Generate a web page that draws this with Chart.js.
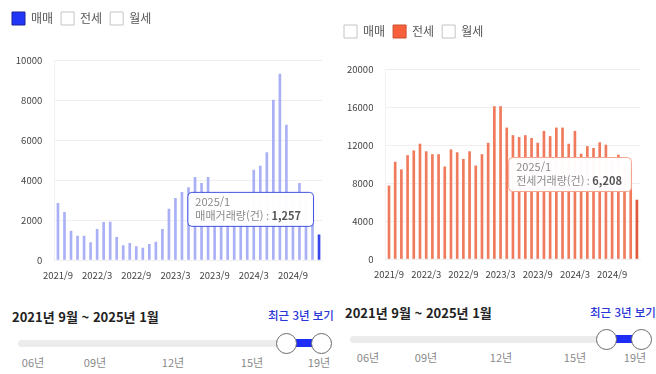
<!DOCTYPE html>
<html lang="ko">
<head>
<meta charset="utf-8">
<script src="https://cdn.jsdelivr.net/npm/chart.js@4.4.1/dist/chart.umd.min.js"></script>
<style>
body { margin: 0; background: #fff; font-family: 'Noto Sans CJK KR', 'Noto Sans', sans-serif; }
#wrap { position: relative; width: 656px; height: 374px; overflow: hidden; }
canvas { position: absolute; top: 0; }
.range { position: absolute; font-size: 13px; font-weight: 600; color: #222; line-height: 20px; white-space: nowrap; }
.recent { position: absolute; font-size: 11.5px; font-weight: 500; color: #2a35d8; line-height: 20px; white-space: nowrap; }
.track { position: absolute; height: 7px; border-radius: 4px; background: #ececec; }
.sel { position: absolute; height: 8px; background: #1d2cf7; }
.knob { position: absolute; width: 21px; height: 21px; box-sizing: border-box; border: 1.5px solid #6b6b6b; border-radius: 50%; background: #fff; }
.yr { position: absolute; font-size: 11px; color: #8a8a8a; line-height: 14px; transform: translateX(-50%); white-space: nowrap; }
</style>
</head>
<body>
<div id="wrap">
  <canvas id="saleChart" width="330" height="295" style="left:0"></canvas>
  <canvas id="jeonseChart" width="326" height="295" style="left:330px"></canvas>

  <div class="range" style="left:12px;top:307px">2021년 9월 ~ 2025년 1월</div>
  <div class="track" style="left:18px;top:339.5px;width:306px"></div>
  <div class="sel" style="left:296px;top:339px;width:17px"></div>
  <div class="knob" style="left:276px;top:332.5px"></div>
  <div class="knob" style="left:311px;top:332.5px"></div>
  <div class="yr" style="left:33px;top:355px">06년</div>
  <div class="yr" style="left:95px;top:355px">09년</div>
  <div class="yr" style="left:173px;top:355px">12년</div>
  <div class="yr" style="left:252px;top:355px">15년</div>
  <div class="yr" style="left:319px;top:355px">19년</div>

  <div class="range" style="left:345px;top:303px">2021년 9월 ~ 2025년 1월</div>
  <div class="track" style="left:350px;top:335.5px;width:300px"></div>
  <div class="sel" style="left:616px;top:335px;width:17px"></div>
  <div class="knob" style="left:596px;top:328.5px"></div>
  <div class="knob" style="left:631px;top:328.5px"></div>
  <div class="yr" style="left:368px;top:350px">06년</div>
  <div class="yr" style="left:426px;top:350px">09년</div>
  <div class="yr" style="left:501px;top:350px">12년</div>
  <div class="yr" style="left:575px;top:350px">15년</div>
  <div class="yr" style="left:635px;top:350px">19년</div>

  <div class="recent" style="left:268px;top:305px">최근 3년 보기</div>
  <div class="recent" style="left:590px;top:302px">최근 3년 보기</div>
</div>
<script>
var FONT = "'Noto Sans CJK KR', 'Noto Sans', sans-serif";

var months = ['2021/9', '2021/10', '2021/11', '2021/12',
    '2022/1', '2022/2', '2022/3', '2022/4', '2022/5', '2022/6', '2022/7', '2022/8', '2022/9', '2022/10', '2022/11', '2022/12',
    '2023/1', '2023/2', '2023/3', '2023/4', '2023/5', '2023/6', '2023/7', '2023/8', '2023/9', '2023/10', '2023/11', '2023/12',
    '2024/1', '2024/2', '2024/3', '2024/4', '2024/5', '2024/6', '2024/7', '2024/8', '2024/9', '2024/10', '2024/11', '2024/12',
    '2025/1'];

// 매매 거래량(건)
var saleCounts = [2833, 2383, 1450, 1200, 1200, 867, 1533, 1883, 1900, 1133,
    717, 833, 667, 600, 783, 900, 1533, 2540, 3083, 3383,
    3617, 4133, 3833, 4133, 3200, 2300, 1900, 1850, 2600, 2700,
    4500, 4700, 5367, 8000, 9300, 6750, 3200, 3833, 3300, 3100,
    1257];

// 전세 거래량(건)
var jeonseCounts = [7700, 10200, 9400, 10900, 11400, 12100, 11300, 11000, 11000, 9700,
    11500, 11200, 10500, 11300, 9800, 11000, 12200, 16050, 16050, 13800,
    13000, 12800, 13000, 12700, 12200, 13450, 12900, 13800, 13800, 12100,
    13450, 11050, 11850, 11650, 12250, 12000, 10400, 10950, 10000, 9400,
    6208];

var legendNames = ['매매', '전세', '월세'];
var saleTicks = [0, 2000, 4000, 6000, 8000, 10000];
var jeonseTicks = [0, 4000, 8000, 12000, 16000, 20000];

// push the plot down below the legend
var legendGap = {
    id: 'legendGap',
    beforeInit: function(chart, args, opts) {
        var fit = chart.legend.fit;
        chart.legend.fit = function() {
            fit.call(this);
            this.height += opts.gap || 0;
        };
    }
};

// fixed tooltip on the last month
var hoverTip = {
    id: 'hoverTip',
    afterDraw: function(chart, args, opts) {
        var meta = chart.getDatasetMeta(opts.dataset);
        var i = meta.data.length - 1;
        var bar = meta.data[i];
        var ctx = chart.ctx;
        var label = opts.label + ' : ';
        var num = chart.data.datasets[opts.dataset].data[i].toLocaleString('en-US');
        ctx.save();
        ctx.font = '11px ' + FONT;
        var w1 = ctx.measureText(label).width;
        ctx.font = 'bold 11px ' + FONT;
        var w2 = ctx.measureText(num).width;
        var w = w1 + w2 + opts.pad, h = 34;
        var x = bar.x - 6 - w, y = bar.y - 26 - h / 2;
        ctx.beginPath();
        ctx.roundRect(x + 0.5, y + 0.5, w, h, 4);
        ctx.fillStyle = 'rgba(255,255,255,0.97)';
        ctx.fill();
        ctx.lineWidth = 1;
        ctx.strokeStyle = opts.border;
        ctx.stroke();
        ctx.textBaseline = 'middle';
        ctx.textAlign = 'left';
        ctx.fillStyle = '#8a8a8a';
        ctx.font = '11px ' + FONT;
        ctx.fillText(chart.data.labels[i], x + 8, y + 10);
        ctx.fillText(label, x + 8, y + 24);
        ctx.fillStyle = '#555';
        ctx.font = 'bold 11px ' + FONT;
        ctx.fillText(num, x + 8 + w1, y + 24);
        ctx.restore();
    }
};

function makeChart(id, p) {
    var last = p.values.length - 1;
    var datasets = legendNames.map(function(name, k) {
        return {
            label: name,
            data: k === p.active ? p.values : [],
            backgroundColor: p.values.map(function(v, i) { return i === last ? p.hot : p.color; }),
            barThickness: 2,
            grouped: false
        };
    });
    return new Chart(document.getElementById(id).getContext('2d'), {
        type: 'bar',
        data: { labels: months, datasets: datasets },
        options: {
            responsive: false,
            animation: false,
            layout: { padding: p.padding },
            plugins: {
                tooltip: { enabled: false },
                legendGap: { gap: p.gap },
                hoverTip: { dataset: p.active, label: p.tipLabel, border: p.tipBorder, pad: p.tipPad },
                legend: {
                    align: 'start',
                    onClick: null,
                    labels: {
                        boxWidth: 13,
                        boxHeight: 13,
                        padding: 8,
                        color: '#555',
                        font: { family: FONT, size: 12 },
                        generateLabels: function(chart) {
                            return chart.data.datasets.map(function(ds, k) {
                                var on = k === p.active;
                                return {
                                    text: ds.label,
                                    fillStyle: on ? p.legendFill : '#fff',
                                    strokeStyle: on ? p.legendStroke : '#c4c4c4',
                                    lineWidth: 1,
                                    hidden: false,
                                    fontColor: '#555',
                                    datasetIndex: k
                                };
                            });
                        }
                    }
                }
            },
            scales: {
                x: {
                    grid: { display: false, drawTicks: false },
                    border: { color: '#eeeeee' },
                    ticks: {
                        autoSkip: false,
                        maxRotation: 0,
                        padding: 10,
                        color: '#444',
                        font: { family: FONT, size: 9.5 },
                        callback: function(v, i) { return i % 6 === 0 ? months[i] : ''; }
                    }
                },
                y: {
                    min: p.ticks[0],
                    max: p.ticks[p.ticks.length - 1],
                    afterBuildTicks: function(scale) {
                        scale.ticks = p.ticks.map(function(v) { return { value: v }; });
                    },
                    afterFit: function(scale) { scale.width = p.axisWidth; },
                    grid: { color: '#efefef', drawTicks: false },
                    border: { color: '#f1f1f1' },
                    ticks: {
                        padding: 12.5,
                        color: '#444',
                        font: { family: FONT, size: 9.5 },
                        callback: function(v) { return String(v); }
                    }
                }
            }
        },
        plugins: [legendGap, hoverTip]
    });
}

makeChart('saleChart', {
    active: 0,
    values: saleCounts,
    ticks: saleTicks,
    color: '#aab0f5',
    hot: '#3646ec',
    legendFill: '#2236f8',
    legendStroke: '#1a249a',
    tipLabel: '매매거래량(건)',
    tipBorder: '#4252df',
    tipPad: 20,
    padding: { left: 4, right: 7.7, top: 4, bottom: 3.6 },
    axisWidth: 50.7,
    gap: 25
});

makeChart('jeonseChart', {
    active: 1,
    values: jeonseCounts,
    ticks: jeonseTicks,
    color: '#f07a5c',
    hot: '#e4583a',
    legendFill: '#f8603c',
    legendStroke: '#c9502f',
    tipLabel: '전세거래량(건)',
    tipBorder: '#f4a590',
    tipPad: 17,
    padding: { left: 6, right: 16, top: 17, bottom: 4.6 },
    axisWidth: 49.9,
    gap: 21
});
</script>
</body>
</html>
